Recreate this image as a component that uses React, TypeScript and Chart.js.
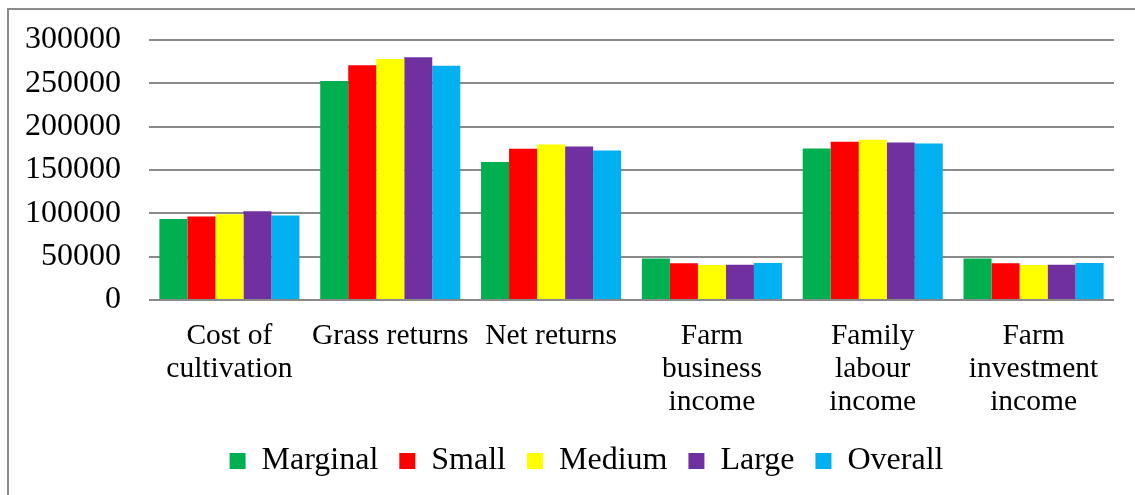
import React, { useEffect, useRef } from "react";
import { Chart, registerables } from "chart.js";

Chart.register(...registerables);

const categories: string[][] = [
  ["Cost of", "cultivation"],
  ["Grass returns"],
  ["Net returns"],
  ["Farm", "business", "income"],
  ["Family", "labour", "income"],
  ["Farm", "investment", "income"],
];

const marginal = [93600, 252700, 159100, 47800, 174900, 47800];
const small = [96300, 270800, 174500, 42400, 182600, 42400];
const medium = [99000, 278100, 179500, 40400, 184900, 40400];
const large = [102500, 280000, 177200, 40800, 181800, 40800];
const overall = [97500, 270400, 172600, 42800, 180700, 42800];

const seriesNames = ["Marginal", "Small", "Medium", "Large", "Overall"];
const seriesColors = ["#00B050", "#FF0000", "#FFFF00", "#7030A0", "#00B0F0"];

const yMin = 0;
const yMax = 300000;
const yStep = 50000;

const FONT = "'Liberation Serif', 'Times New Roman', serif";

const shiftLegend = {
  id: "shiftLegend",
  afterLayout(chart: any) {
    if (chart.legend) {
      chart.legend.left += 59;
    }
  },
};

export default function App() {
  const ref = useRef<HTMLCanvasElement | null>(null);

  useEffect(() => {
    if (!ref.current) return;
    const values = [marginal, small, medium, large, overall];
    const chart = new Chart(ref.current, {
      type: "bar",
      data: {
        labels: categories,
        datasets: values.map((v, i) => ({
          label: seriesNames[i],
          data: v,
          backgroundColor: seriesColors[i],
          borderWidth: 0,
          categoryPercentage: 0.871,
          barPercentage: 1,
        })),
      },
      plugins: [shiftLegend],
      options: {
        responsive: false,
        animation: false,
        devicePixelRatio: 1,
        layout: { padding: { left: 0, right: 21, top: 40, bottom: 8 } },
        plugins: {
          tooltip: { enabled: false },
          legend: {
            position: "bottom",
            labels: {
              boxWidth: 16,
              boxHeight: 16,
              padding: 21,
              color: "#000",
              font: { family: FONT, size: 32 },
            },
          },
        },
        scales: {
          x: {
            grid: { display: false, drawTicks: false },
            border: { display: false },
            ticks: {
              color: "#000",
              font: { family: FONT, size: 29.5, lineHeight: 1.12 },
              padding: 20,
              maxRotation: 0,
              minRotation: 0,
              autoSkip: false,
            },
            afterFit: (scale: any) => {
              scale.height = 124;
            },
          },
          y: {
            min: yMin,
            max: yMax,
            grid: { color: "#8a8a8a", lineWidth: 2, drawTicks: false },
            border: { display: false },
            ticks: {
              stepSize: yStep,
              color: "#000",
              padding: 28,
              font: { family: FONT, size: 32 },
              callback: (value: any) => String(value),
            },
            afterFit: (scale: any) => {
              scale.width = 149;
              scale.paddingTop = 0;
              scale.paddingBottom = 0;
            },
          },
        },
      },
    });
    return () => chart.destroy();
  }, []);

  return (
    <div
      style={{
        position: "absolute",
        left: 0,
        top: 0,
        width: 1135,
        height: 495,
        overflow: "hidden",
        background: "#fff",
      }}
    >
      <div
        style={{
          position: "absolute",
          left: 7,
          top: 8,
          width: 1300,
          height: 700,
          border: "2px solid #8c8c8c",
          boxSizing: "border-box",
        }}
      />
      <canvas
        ref={ref}
        width={1135}
        height={495}
        style={{ position: "absolute", left: 0, top: 0 }}
      />
    </div>
  );
}
